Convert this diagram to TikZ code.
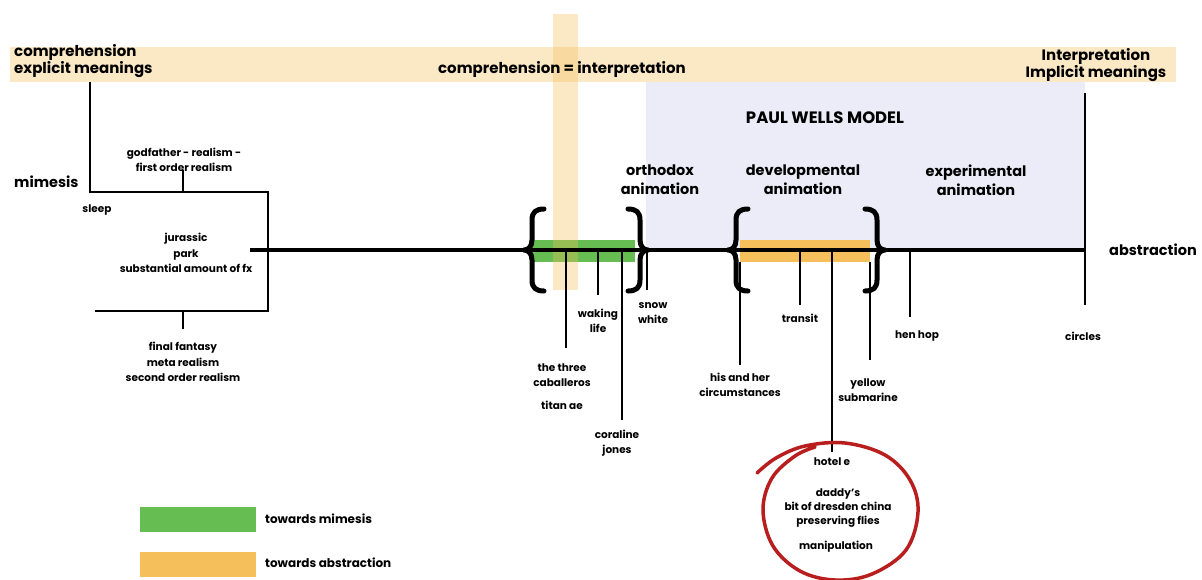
\documentclass[tikz,border=0pt]{standalone}
\usepackage{fontspec}
\setmainfont{Poppins}
\definecolor{bandorange}{RGB}{245,190,90}
\definecolor{lavender}{RGB}{236,236,248}
\definecolor{barGreen}{RGB}{102,190,82}
\definecolor{barOrange}{RGB}{245,192,92}
\definecolor{loopred}{RGB}{185,30,30}
\begin{document}
\begin{tikzpicture}[x=1pt,y=-1pt,
  toplabel/.style={font=\bfseries\fontsize{15}{16}\selectfont, align=center, inner sep=0pt},
  biglabel/.style={font=\bfseries\fontsize{14.5}{19}\selectfont, align=center, inner sep=0pt},
  smalllabel/.style={font=\bfseries\fontsize{10.5}{15.5}\selectfont, align=center, inner sep=0pt},
  legendlabel/.style={font=\bfseries\fontsize{12}{15}\selectfont, inner sep=0pt, anchor=west},
  band/.style={fill=bandorange, fill opacity=0.35, draw=none},
  frame/.style={line width=2.5pt},
  tickline/.style={line width=1.3pt},
  heavytick/.style={line width=2.6pt},
  openbrace/.pic={
    \draw[line width=5pt, line cap=round, line join=round]
      (20,-41) .. controls (12,-41) and (8,-38) .. (8,-30) -- (8,-10)
      .. controls (8,-3) and (4,0) .. (0,0)
      .. controls (4,0) and (8,3) .. (8,10) -- (8,30)
      .. controls (8,38) and (12,41) .. (20,41);
  }]
\clip (0,0) rectangle (1202,579);
\fill[white] (0,0) rectangle (1202,579);

% shaded regions
\fill[lavender] (646,82) rectangle (1085,250);
\fill[band] (10,47) rectangle (1176,82);

% coloured segments on the scale
\fill[barGreen] (530,240) rectangle (635,262);
\fill[barOrange] (740,240) rectangle (870,262);

% vertical band through the scale
\fill[band] (553,14) rectangle (578,290);

% realism bracket on the left
\coordinate (lt) at (90,82);
\coordinate (lc) at (90,192);
\coordinate (rc) at (268,192);
\coordinate (rb) at (268,311);
\coordinate (lb) at (95,311);
\draw[frame, line join=miter] (lt) -- (lc) -- (rc) -- (rb) -- (lb);
\coordinate (gfa) at (183,170);
\coordinate (gfb) at (183,192);
\coordinate (ffa) at (183,311);
\coordinate (ffb) at (183,329);
\draw[frame] (gfa) -- (gfb);
\draw[frame] (ffa) -- (ffb);

% main scale
\coordinate (scaleL) at (250,250);
\coordinate (scaleR) at (1085,250);
\draw[line width=4pt] (scaleL) -- (scaleR);

% braces
\pic at (524,250) {openbrace};
\pic[xscale=-1] at (648,250) {openbrace};
\pic at (728,250) {openbrace};
\pic[xscale=-1] at (885,250) {openbrace};

% ticks below the scale
\coordinate (cabA) at (566,250); \coordinate (cabB) at (566,348);
\coordinate (wakA) at (598,250); \coordinate (wakB) at (598,295);
\coordinate (corA) at (622,250); \coordinate (corB) at (622,420);
\coordinate (snoA) at (647,250); \coordinate (snoB) at (647,290);
\coordinate (hisA) at (740,262); \coordinate (hisB) at (740,365);
\coordinate (traA) at (800,250); \coordinate (traB) at (800,305);
\coordinate (hotA) at (832,250); \coordinate (hotB) at (832,452);
\coordinate (yelA) at (870,262); \coordinate (yelB) at (870,360);
\coordinate (henA) at (910,250); \coordinate (henB) at (910,317);
\coordinate (cirA) at (1085,93); \coordinate (cirB) at (1085,305);
\draw[tickline] (cabA) -- (cabB);
\draw[tickline] (wakA) -- (wakB);
\draw[tickline] (corA) -- (corB);
\draw[tickline] (snoA) -- (snoB);
\draw[tickline] (hisA) -- (hisB);
\draw[tickline] (traA) -- (traB);
\draw[tickline] (hotA) -- (hotB);
\draw[heavytick] (yelA) -- (yelB);
\draw[heavytick] (henA) -- (henB);
\draw[heavytick] (cirA) -- (cirB);

% hand-drawn loop
\draw[loopred, line width=3.5pt, line cap=round]
  plot[smooth, tension=0.6] coordinates {(757,473) (776,458) (805,446) (845,443) (885,455) (910,480) (918,512) (906,550) (872,574) (835,580) (800,571) (773,546) (763,510) (772,478) (795,456) (815,447)};

% top labels
\node[toplabel, align=left, anchor=west] (explicit) at (14,61) {comprehension\\explicit meanings};
\node[toplabel] (equal) at (562,69) {comprehension = interpretation};
\node[toplabel] (implicit) at (1096,65) {Interpretation\\Implicit meanings};
\node[font=\bfseries\fontsize{16.5}{18}\selectfont, inner sep=0pt] (wells) at (825,118) {PAUL WELLS MODEL};
\node[biglabel] (orthodox) at (660,180) {orthodox\\animation};
\node[biglabel] (developmental) at (803,180) {developmental\\animation};
\node[biglabel] (experimental) at (976,180) {experimental\\animation};
\node[biglabel, anchor=west] (mimesis) at (14,182) {mimesis};
\node[biglabel, anchor=west] (abstraction) at (1109,250) {abstraction};

% film labels
\node[smalllabel] (godfather) at (184,160) {godfather - realism -\\first order realism};
\node[smalllabel] (sleep) at (97,210) {sleep};
\node[smalllabel] (jurassic) at (186,253) {jurassic\\park\\substantial amount of fx};
\node[smalllabel] (fantasy) at (183,362) {final fantasy\\meta realism\\second order realism};
\node[smalllabel] (caballeros) at (562,375) {the three\\caballeros};
\node[smalllabel] (titan) at (562,405) {titan ae};
\node[smalllabel] (waking) at (598,321) {waking\\life};
\node[smalllabel] (coraline) at (617,443) {coraline\\jones};
\node[smalllabel] (snow) at (653,313) {snow\\white};
\node[smalllabel] (hisher) at (740,385) {his and her\\circumstances};
\node[smalllabel] (transit) at (800,318) {transit};
\node[smalllabel] (yellow) at (868,390) {yellow\\submarine};
\node[smalllabel] (henhop) at (917,336) {hen hop};
\node[smalllabel] (circles) at (1083,336) {circles};
\node[smalllabel] (hotel) at (832,462) {hotel e};
\node[smalllabel, font=\bfseries\fontsize{10.5}{14}\selectfont] (daddy) at (838,508) {daddy's\\bit of dresden china\\preserving flies};
\node[smalllabel] (manip) at (836,547) {manipulation};

% legend
\fill[barGreen] (140,507) rectangle (256,532);
\fill[barOrange] (140,552) rectangle (256,577);
\node[legendlabel] (legmim) at (265,519) {towards mimesis};
\node[legendlabel] (legabs) at (265,563) {towards abstraction};
\end{tikzpicture}
\end{document}
